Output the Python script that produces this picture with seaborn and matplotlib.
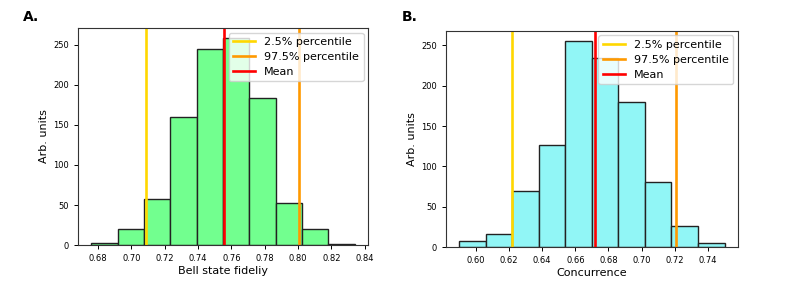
import numpy as np
import matplotlib
matplotlib.use("Agg")
import matplotlib.pyplot as plt
import seaborn as sns

# panel A: Bell state fidelity bootstrap histogram
fid_edges = [0.676, 0.6918, 0.7076, 0.7234, 0.7392, 0.755, 0.7708, 0.7866, 0.8024, 0.8182, 0.834]
fid_counts = [2, 20, 58, 160, 245, 258, 184, 52, 20, 1]
fid_p025 = 0.709
fid_p975 = 0.8005
fid_mean = 0.7555

# panel B: concurrence bootstrap histogram
conc_edges = [0.590, 0.606, 0.622, 0.638, 0.654, 0.670, 0.686, 0.702, 0.718, 0.734, 0.750]
conc_counts = [7, 16, 69, 127, 255, 234, 180, 81, 26, 5]
conc_p025 = 0.622
conc_p975 = 0.7205
conc_mean = 0.672

fig = plt.figure(figsize=(7.93, 2.82), dpi=100)
axA = fig.add_axes([0.0984, 0.131, 0.3657, 0.7695])
axB = fig.add_axes([0.5624, 0.124, 0.368, 0.766])


def draw(ax, edges, counts, p025, p975, mean, color, xlabel, ticks):
    centers = [(edges[i] + edges[i + 1]) / 2 for i in range(len(counts))]
    sns.histplot(x=centers, weights=counts, bins=edges, ax=ax, color=color,
                 alpha=1, edgecolor="#222222", linewidth=1)
    ax.axvline(p025, color="#ffd700", lw=1.9, label="2.5% percentile")
    ax.axvline(p975, color="#ff9900", lw=1.9, label="97.5% percentile")
    ax.axvline(mean, color="#ff0000", lw=1.9, label="Mean")
    ax.set_xticks(ticks)
    ax.set_xticklabels([f"{t:.2f}" for t in ticks])
    ax.set_yticks([0, 50, 100, 150, 200, 250])
    ax.tick_params(labelsize=6, length=3, width=0.7)
    ax.set_xlabel(xlabel, fontsize=8, labelpad=2)
    ax.set_ylabel("Arb. units", fontsize=8, labelpad=3)
    for s in ax.spines.values():
        s.set_linewidth(0.8)
        s.set_color("#333333")
    ax.legend(loc="upper right", fontsize=8, handlelength=2.0,
              borderaxespad=0.4, labelspacing=0.45, handletextpad=0.8)


draw(axA, fid_edges, fid_counts, fid_p025, fid_p975, fid_mean, "#72ff8f",
     "Bell state fideliy", [0.68, 0.70, 0.72, 0.74, 0.76, 0.78, 0.80, 0.82, 0.84])
draw(axB, conc_edges, conc_counts, conc_p025, conc_p975, conc_mean, "#91f6f6",
     "Concurrence", [0.60, 0.62, 0.64, 0.66, 0.68, 0.70, 0.72, 0.74])

fig.text(0.029, 0.94, "A.", fontsize=10, fontweight="bold", va="center")
fig.text(0.507, 0.94, "B.", fontsize=10, fontweight="bold", va="center")

fig.savefig("out.png", dpi=100)
